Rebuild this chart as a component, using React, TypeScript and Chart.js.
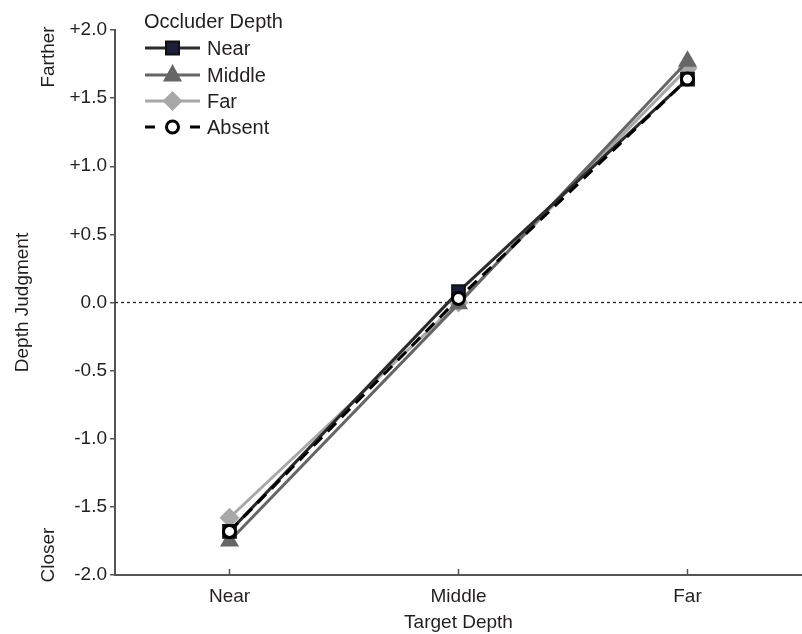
import React, { useEffect, useRef } from 'react';
import { Chart, registerables } from 'chart.js';
Chart.register(...registerables);

const categories = ['Near', 'Middle', 'Far'];
const nearValues = [-1.68, 0.08, 1.64];
const middleValues = [-1.75, -0.01, 1.77];
const farValues = [-1.58, 0.0, 1.72];
const absentValues = [-1.68, 0.03, 1.64];
const seriesNames = ['Near', 'Middle', 'Far', 'Absent'];
const legendTitle = 'Occluder Depth';
const xTitle = 'Target Depth';
const yTitle = 'Depth Judgment';
const yTopLabel = 'Farther';
const yBottomLabel = 'Closer';

const FONT = '"Liberation Sans", Arial, Helvetica, sans-serif';
const TEXT = '#231f20';
const AXIS = '#555';

const COLORS = {
  near: { line: '#2b2b2b', fill: '#1b1f3b', border: '#111' },
  middle: { line: '#666666', fill: '#666666', border: '#666666' },
  far: { line: '#a8a8a8', fill: '#a8a8a8', border: '#a8a8a8' },
  absent: { line: '#000000', fill: '#ffffff', border: '#000000' },
};

function fmt(v: number) {
  if (Math.abs(v) < 1e-9) return '0.0';
  return (v > 0 ? '+' : '') + v.toFixed(1);
}

function drawMarker(ctx: CanvasRenderingContext2D, kind: string, x: number, y: number) {
  ctx.save();
  if (kind === 'rect') {
    ctx.fillStyle = COLORS.near.fill;
    ctx.strokeStyle = COLORS.near.border;
    ctx.lineWidth = 2;
    ctx.beginPath();
    ctx.rect(x - 6.5, y - 6.5, 13, 13);
    ctx.fill();
    ctx.stroke();
  } else if (kind === 'triangle') {
    const r = 11;
    ctx.fillStyle = COLORS.middle.fill;
    ctx.beginPath();
    ctx.moveTo(x, y - r);
    ctx.lineTo(x + r * Math.cos(Math.PI / 6), y + r * 0.5 + 1);
    ctx.lineTo(x - r * Math.cos(Math.PI / 6), y + r * 0.5 + 1);
    ctx.closePath();
    ctx.fill();
  } else if (kind === 'rectRot') {
    const r = 10;
    ctx.fillStyle = COLORS.far.fill;
    ctx.beginPath();
    ctx.moveTo(x, y - r);
    ctx.lineTo(x + r, y);
    ctx.lineTo(x, y + r);
    ctx.lineTo(x - r, y);
    ctx.closePath();
    ctx.fill();
  } else {
    ctx.fillStyle = '#fff';
    ctx.strokeStyle = '#000';
    ctx.lineWidth = 3;
    ctx.beginPath();
    ctx.arc(x, y, 6, 0, Math.PI * 2);
    ctx.fill();
    ctx.stroke();
  }
  ctx.restore();
}

const decorPlugin = {
  id: 'decor',
  beforeDatasetsDraw(chart: any) {
    const { ctx, chartArea, scales } = chart;
    const y0 = scales.y.getPixelForValue(0);
    ctx.save();
    ctx.strokeStyle = '#222';
    ctx.lineWidth = 1.3;
    ctx.setLineDash([3, 3]);
    ctx.beginPath();
    ctx.moveTo(chartArea.left, y0);
    ctx.lineTo(chartArea.right, y0);
    ctx.stroke();
    ctx.restore();
  },
  afterDraw(chart: any) {
    const { ctx, chartArea, scales } = chart;
    ctx.save();
    // x ticks (inward)
    ctx.strokeStyle = AXIS;
    ctx.lineWidth = 1.5;
    categories.forEach((_, i) => {
      const x = scales.x.getPixelForValue(i);
      ctx.beginPath();
      ctx.moveTo(x, chartArea.bottom);
      ctx.lineTo(x, chartArea.bottom - 6);
      ctx.stroke();
    });
    ctx.fillStyle = TEXT;
    ctx.font = `19px ${FONT}`;
    ctx.textAlign = 'center';
    ctx.textBaseline = 'middle';
    ctx.fillText(xTitle, scales.x.getPixelForValue(1), 623);
    // rotated y labels
    const rot = (t: string, x: number, y: number) => {
      ctx.save();
      ctx.translate(x, y);
      ctx.rotate(-Math.PI / 2);
      ctx.fillText(t, 0, 0);
      ctx.restore();
    };
    rot(yTitle, 23, scales.y.getPixelForValue(0));
    rot(yTopLabel, 49, 57);
    rot(yBottomLabel, 49, 555);

    // legend
    ctx.font = `20px ${FONT}`;
    ctx.textAlign = 'left';
    ctx.fillText(legendTitle, 144, 22);
    const items = [
      { name: seriesNames[0], kind: 'rect', color: COLORS.near.line, dash: [] as number[], y: 48 },
      { name: seriesNames[1], kind: 'triangle', color: COLORS.middle.line, dash: [], y: 75 },
      { name: seriesNames[2], kind: 'rectRot', color: COLORS.far.line, dash: [], y: 101 },
      { name: seriesNames[3], kind: 'circle', color: COLORS.absent.line, dash: [9, 9], y: 127 },
    ];
    items.forEach((it) => {
      ctx.save();
      ctx.strokeStyle = it.color;
      ctx.lineWidth = 3;
      if (it.dash.length) {
        ctx.beginPath();
        ctx.moveTo(145, it.y);
        ctx.lineTo(155, it.y);
        ctx.moveTo(190, it.y);
        ctx.lineTo(200, it.y);
        ctx.stroke();
      } else {
        ctx.beginPath();
        ctx.moveTo(145, it.y);
        ctx.lineTo(200, it.y);
        ctx.stroke();
      }
      ctx.restore();
      drawMarker(ctx, it.kind, 172.5, it.y);
      ctx.fillStyle = TEXT;
      ctx.fillText(it.name, 207, it.y + 1);
    });
    ctx.restore();
  },
};

export default function App() {
  const ref = useRef<HTMLCanvasElement>(null);
  useEffect(() => {
    if (!ref.current) return;
    const chart = new Chart(ref.current, {
      type: 'line',
      data: {
        labels: categories,
        datasets: [
          {
            label: seriesNames[3],
            data: absentValues,
            borderColor: COLORS.absent.line,
            borderWidth: 3,
            borderDash: [12, 8],
            pointStyle: 'circle',
            pointRadius: 6,
            pointBorderWidth: 3,
            pointBackgroundColor: COLORS.absent.fill,
            pointBorderColor: COLORS.absent.border,
            order: 0,
          },
          {
            label: seriesNames[0],
            data: nearValues,
            borderColor: COLORS.near.line,
            borderWidth: 3,
            pointStyle: 'rect',
            pointRadius: 9,
            pointBorderWidth: 2,
            pointBackgroundColor: COLORS.near.fill,
            pointBorderColor: COLORS.near.border,
            order: 1,
          },
          {
            label: seriesNames[1],
            data: middleValues,
            borderColor: COLORS.middle.line,
            borderWidth: 3,
            pointStyle: 'triangle',
            pointRadius: 11,
            pointBorderWidth: 0,
            pointBackgroundColor: COLORS.middle.fill,
            pointBorderColor: COLORS.middle.border,
            order: 2,
          },
          {
            label: seriesNames[2],
            data: farValues,
            borderColor: COLORS.far.line,
            borderWidth: 3,
            pointStyle: 'rectRot',
            pointRadius: 10,
            pointBorderWidth: 0,
            pointBackgroundColor: COLORS.far.fill,
            pointBorderColor: COLORS.far.border,
            order: 3,
          },
        ],
      },
      options: {
        responsive: false,
        animation: false,
        layout: { autoPadding: false, padding: { top: 30, right: -5, left: 0, bottom: 0 } },
        plugins: { legend: { display: false }, tooltip: { enabled: false } },
        scales: {
          x: {
            type: 'category',
            offset: true,
            grid: { display: true, drawOnChartArea: false, drawTicks: false },
            border: { display: true, color: AXIS, width: 2 },
            ticks: { color: TEXT, font: { family: FONT, size: 19 }, padding: 10 },
            afterFit: (s: any) => {
              s.height = 59;
              s.paddingLeft = 0;
              s.paddingRight = 0;
            },
          },
          y: {
            type: 'linear',
            min: -2,
            max: 2,
            grid: { display: true, drawOnChartArea: false, drawTicks: true, tickLength: 5, color: AXIS, lineWidth: 1.5 },
            border: { display: true, color: AXIS, width: 2 },
            ticks: {
              stepSize: 0.5,
              color: TEXT,
              font: { family: FONT, size: 19 },
              padding: 3,
              callback: (v: any) => fmt(Number(v)),
            },
            afterFit: (s: any) => {
              s.width = 115;
              s.paddingTop = 0;
              s.paddingBottom = 0;
            },
          },
        },
      },
      plugins: [decorPlugin],
    });
    return () => chart.destroy();
  }, []);
  return (
    <div style={{ position: 'fixed', left: 0, top: 0, width: 802, height: 634, background: '#fff' }}>
      <canvas ref={ref} width={802} height={634} style={{ display: 'block' }} />
    </div>
  );
}
